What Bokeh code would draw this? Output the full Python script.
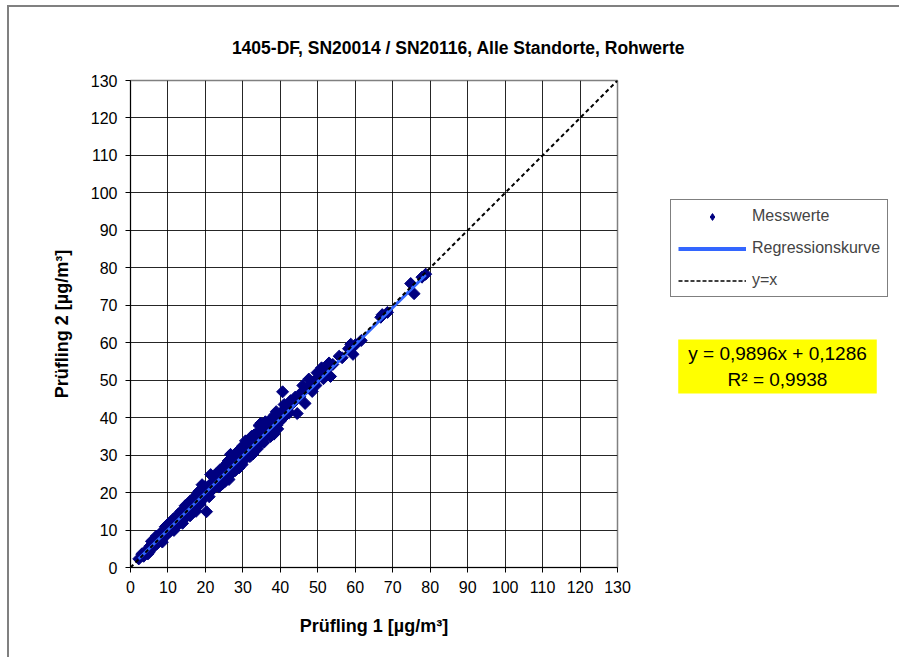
from bokeh.plotting import figure
from bokeh.layouts import column, row
from bokeh.models import Legend, LegendItem, Label, FixedTicker, Range1d
from bokeh.embed import file_html
from bokeh.resources import INLINE
import math

# Prüfling 1 values (x) and Prüfling 2 values (y)
x1 = [2.2, 3.5, 4.2, 5.0, 5.3, 5.9, 6.2, 6.6, 7.0, 7.3, 7.7, 8.1, 8.5, 8.8, 9.1, 9.5, 9.9,
      10.2, 10.5, 10.9, 11.2, 11.6, 11.9, 12.3, 12.6, 13.0, 13.3, 13.7, 14.0, 14.4, 14.8,
      15.1, 15.5, 15.9, 16.2, 16.6, 17.0, 17.3, 17.7, 18.0, 18.4, 18.8, 19.1, 19.4, 19.8,
      20.1, 20.3, 20.6, 20.9, 21.2, 21.4, 21.7, 22.0, 22.4, 22.7, 23.1, 23.4, 23.8, 24.1,
      24.5, 24.8, 25.2, 25.5, 25.9, 26.3, 26.5, 26.7, 27.0, 27.4, 27.7, 28.1, 28.4, 28.8,
      29.1, 29.5, 29.8, 30.2, 30.5, 30.7, 31.0, 31.3, 31.7, 32.1, 32.5, 32.9, 33.3, 33.8,
      34.0, 34.3, 34.6, 35.0, 35.4, 35.8, 36.3, 36.7, 37.2, 37.6, 38.0, 38.3, 38.7, 39.1,
      39.5, 39.9, 40.3, 40.6, 40.8, 41.3, 41.9, 42.4, 43.0, 43.6, 44.5, 45.2, 45.8, 46.6,
      47.0, 47.6, 48.2, 48.8, 49.5, 50.2, 50.8, 51.5, 52.2, 53.0, 53.4, 54.0, 55.7, 56.5,
      58.2, 58.8, 59.4, 60.1, 61.6, 66.8, 67.2, 68.6, 74.8, 75.7, 77.8, 78.8,
      6.9, 9.3, 11.0, 12.8, 14.6, 16.4, 18.2, 19.9, 22.2, 23.9, 25.7, 27.6, 29.3, 31.5,
      33.0, 35.2, 36.9, 38.5, 13.9, 17.5, 21.0, 24.6, 28.0, 31.9, 35.6, 37.9,
      3.0, 4.6, 5.6, 6.4, 7.5, 8.0, 8.3, 9.7, 10.0, 10.7, 11.4, 12.1, 13.5, 14.2, 15.3,
      16.0, 16.8, 17.8, 18.6, 19.6, 21.5, 22.9, 23.6, 25.0, 25.3, 26.1, 27.2, 28.6, 29.0,
      30.0, 30.9, 32.3, 32.7, 34.5, 34.8, 36.0, 37.4, 38.9, 39.3, 41.0, 42.7, 44.0, 46.0,
      48.5, 49.8, 51.0, 52.6]
y2 = [2.3, 3.0, 4.6, 4.1, 5.8, 6.4, 5.5, 7.8, 6.3, 7.9, 8.6, 7.2, 6.8, 9.4, 8.3, 10.2, 9.0,
      10.9, 9.6, 11.5, 10.4, 9.9, 12.6, 11.4, 13.1, 12.0, 13.8, 12.4, 14.6, 13.5, 15.4,
      14.2, 16.3, 13.8, 16.9, 15.5, 17.6, 16.2, 18.4, 17.1, 19.0, 17.6, 22.1, 20.0, 18.8,
      20.8, 14.9, 21.4, 19.8, 22.0, 24.8, 20.7, 22.9, 21.6, 23.6, 22.0, 24.3, 22.9, 25.0,
      23.6, 25.7, 24.3, 26.5, 25.0, 23.5, 27.4, 30.2, 26.1, 28.4, 26.8, 29.1, 27.6, 30.0,
      28.2, 30.6, 27.5, 31.4, 29.7, 33.8, 32.2, 30.4, 32.9, 31.2, 33.7, 32.0, 34.6, 31.6,
      35.5, 37.9, 36.8, 34.1, 36.3, 34.8, 37.2, 35.7, 38.4, 36.7, 39.2, 35.6, 39.9, 38.0,
      40.6, 39.0, 41.5, 46.9, 40.0, 42.3, 42.0, 41.3, 43.6, 44.2, 41.1, 45.6, 46.9, 43.8,
      47.8, 50.3, 48.5, 49.6, 48.6, 50.8, 51.9, 50.4, 52.8, 54.6, 51.0, 54.2, 56.4, 56.0,
      58.4, 59.6, 56.9, 59.5, 60.6, 66.8, 67.5, 68.1, 75.8, 73.1, 77.5, 78.3,
      8.4, 10.9, 12.5, 14.3, 16.5, 18.1, 20.3, 21.6, 24.2, 26.1, 27.8, 29.9, 31.6, 33.9,
      35.4, 37.5, 39.1, 40.8, 11.8, 15.0, 18.9, 22.4, 25.9, 29.6, 33.4, 36.6,
      3.6, 3.6, 7.0, 6.9, 7.0, 9.2, 8.0, 8.8, 11.6, 10.1, 12.9, 10.8, 15.0, 12.8, 15.0,
      17.8, 14.9, 19.6, 16.9, 21.0, 20.4, 25.0, 21.5, 26.9, 23.0, 28.5, 25.3, 31.0, 26.6,
      32.5, 29.2, 35.0, 30.3, 33.0, 38.5, 38.9, 35.0, 41.6, 37.0, 43.5, 44.5, 45.5, 48.6,
      47.0, 52.0, 53.3, 51.4]

slope = 0.9896
intercept = 0.1286
r_squared = 0.9938
diag = [0, 130]
ticks = list(range(0, 131, 10))

FONT = "Liberation Sans"
NAVY = "#000080"
BLUE = "#3366FF"


def de(v):
    return str(v).replace(".", ",")


xr = [min(x1), max(x1)]
yr = [slope * v + intercept for v in xr]

# ---------- title strip ----------
tf = figure(width=890, height=63, x_range=Range1d(0, 890), y_range=Range1d(0, 63),
            x_axis_type=None, y_axis_type=None, output_backend="svg", toolbar_location=None,
            min_border=0)
tf.outline_line_color = None
tf.grid.visible = False
tf.add_layout(Label(x=449, y=23, x_units="screen", y_units="screen",
                    text="1405-DF, SN20014 / SN20116, Alle Standorte, Rohwerte",
                    text_align="center", text_baseline="middle",
                    text_font=FONT, text_font_size="17.5px", text_font_style="bold",
                    text_color="black"))

# ---------- main scatter ----------
p = figure(frame_width=487, frame_height=487,
           min_border_left=121, min_border_right=30, min_border_top=10, min_border_bottom=90,
           x_range=Range1d(0, 130), y_range=Range1d(0, 130),
           output_backend="svg", toolbar_location=None)
p.background_fill_color = "white"
p.border_fill_color = "white"
p.outline_line_color = "#808080"
p.outline_line_width = 1.5

for ax in (p.xaxis[0], p.yaxis[0]):
    ax.ticker = FixedTicker(ticks=ticks)
    ax.axis_line_color = "black"
    ax.axis_line_width = 1
    ax.major_tick_line_color = "black"
    ax.major_tick_in = 0
    ax.major_tick_out = 5
    ax.minor_tick_line_color = None
    ax.major_label_text_font = FONT
    ax.major_label_text_font_size = "16px"
    ax.major_label_text_color = "black"
    ax.axis_label_text_font = FONT
    ax.axis_label_text_font_size = "18px"
    ax.axis_label_text_font_style = "bold"
    ax.axis_label_text_color = "black"

p.xaxis.axis_label = "Prüfling 1 [µg/m³]"
p.yaxis.axis_label = "Prüfling 2 [µg/m³]"
p.xaxis.major_label_standoff = 8
p.yaxis.major_label_standoff = 8
p.xaxis.axis_label_standoff = 20
p.yaxis.axis_label_standoff = 16

p.grid.ticker = FixedTicker(ticks=ticks)
p.grid.grid_line_color = "black"
p.grid.grid_line_width = 1
p.grid.grid_line_alpha = 0.85

p.scatter(x1, y2, marker="square", size=8.5, angle=math.pi / 4,
          fill_color=NAVY, line_color=NAVY)
p.line(xr, yr, line_color=BLUE, line_width=3)
p.line(diag, diag, line_color="black", line_width=2, line_dash="4 3")

# ---------- side panel: legend + equation ----------
# the same series are drawn here too, but the ranges keep them out of view;
# they only provide the legend's sample glyphs
s = figure(width=252, height=587, x_range=Range1d(1000, 1252), y_range=Range1d(1000, 1587),
           x_axis_type=None, y_axis_type=None, output_backend="svg", toolbar_location=None,
           min_border=0)
s.outline_line_color = None
s.grid.visible = False
r_pts = s.scatter(x1, y2, marker="diamond", size=11,
                  fill_color=NAVY, line_color=NAVY)
r_reg = s.line(xr, yr, line_color=BLUE, line_width=4)
r_idl = s.line(diag, diag, line_color="black", line_width=1.5, line_dash="4 2")

legend = Legend(items=[LegendItem(label="Messwerte", renderers=[r_pts]),
                       LegendItem(label="Regressionskurve", renderers=[r_reg]),
                       LegendItem(label="y=x", renderers=[r_idl])],
                location=(23, 270))
legend.label_text_font = FONT
legend.label_text_font_size = "16px"
legend.glyph_width = 68
legend.glyph_height = 17
legend.label_height = 17
legend.label_width = 126
legend.label_standoff = 6
legend.spacing = 14
legend.padding = 7
legend.margin = 0
legend.border_line_color = "black"
legend.border_line_width = 1
legend.background_fill_color = "white"
legend.background_fill_alpha = 1
s.add_layout(legend)

s.add_layout(Label(x=130, y=201, x_units="screen", y_units="screen",
                   text="y = %sx + %s\nR² = %s" % (de(slope), de(intercept), de(r_squared)),
                   text_align="center", text_baseline="middle",
                   text_font=FONT, text_font_size="19px", text_color="black",
                   background_fill_color="#FFFF00", padding=(10, 4)))

root = column(tf, row(p, s))
root.styles = {"margin-left": "7px", "margin-top": "5px",
               "border-left": "2px solid #808080", "border-top": "2px solid #808080"}

open("out.html", "w").write(file_html(root, INLINE))
